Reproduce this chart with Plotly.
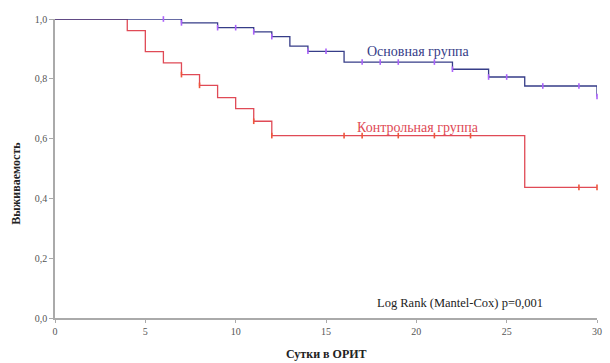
import plotly.graph_objects as go

# Kaplan-Meier step data (days, survival)
main_t = [0, 7, 9, 11, 12, 13, 14, 16, 22, 24, 26, 30]
main_s = [1.0, 0.987, 0.971, 0.957, 0.941, 0.909, 0.892, 0.856, 0.832, 0.806, 0.776, 0.741]
main_cens_t = [6, 7, 9, 10, 11, 12, 14, 15, 17, 18, 19, 21, 22, 24, 25, 27, 29, 30]
main_cens_s = [1.0, 0.987, 0.971, 0.971, 0.957, 0.941, 0.892, 0.892, 0.856, 0.856, 0.856, 0.856,
               0.832, 0.806, 0.806, 0.776, 0.776, 0.741]

ctrl_t = [0, 4, 5, 6, 7, 8, 9, 10, 11, 12, 26, 30]
ctrl_s = [1.0, 0.961, 0.891, 0.853, 0.814, 0.778, 0.737, 0.70, 0.658, 0.61, 0.437, 0.437]
ctrl_cens_t = [7, 8, 11, 12, 16, 17, 19, 21, 23, 29, 30]
ctrl_cens_s = [0.814, 0.778, 0.658, 0.61, 0.61, 0.61, 0.61, 0.61, 0.61, 0.437, 0.437]

x_ticks = [0, 5, 10, 15, 20, 25, 30]
y_ticks = [0.0, 0.2, 0.4, 0.6, 0.8, 1.0]
y_tick_labels = ["0,0", "0,2", "0,4", "0,6", "0,8", "1,0"]

BLUE = "#363d88"
RED = "#e04a56"
FONT = "Liberation Serif"

fig = go.Figure()
fig.add_trace(go.Scatter(x=ctrl_t, y=ctrl_s, mode="lines", line=dict(color=RED, width=1.3, shape="hv"),
                         cliponaxis=False, showlegend=False, hoverinfo="skip"))
fig.add_trace(go.Scatter(x=ctrl_cens_t, y=ctrl_cens_s, mode="markers",
                         marker=dict(symbol="line-ns-open", size=4, line=dict(color=RED, width=1.6)),
                         cliponaxis=False, showlegend=False))
fig.add_trace(go.Scatter(x=main_t, y=main_s, mode="lines", line=dict(color=BLUE, width=1.3, shape="hv"),
                         cliponaxis=False, showlegend=False, hoverinfo="skip"))
fig.add_trace(go.Scatter(x=main_cens_t, y=main_cens_s, mode="markers",
                         marker=dict(symbol="line-ns-open", size=4, line=dict(color=BLUE, width=1.6)),
                         cliponaxis=False, showlegend=False))

fig.add_annotation(x=20.1, y=0.891, text="Основная группа", showarrow=False,
                   font=dict(family=FONT, size=14, color=BLUE))
fig.add_annotation(x=20.1, y=0.638, text="Контрольная группа", showarrow=False,
                   font=dict(family=FONT, size=14, color=RED))
fig.add_annotation(x=22.4, y=0.051, text="Log Rank (Mantel-Cox) p=0,001", showarrow=False,
                   font=dict(family=FONT, size=12.5, color="#222"))
fig.add_annotation(xref="paper", yref="paper", x=0.5, y=-0.09, yanchor="top",
                   text="<b>Сутки в ОРИТ</b>", showarrow=False,
                   font=dict(family=FONT, size=12, color="#222"))
fig.add_annotation(xref="paper", yref="paper", x=-0.088, y=0.45, textangle=-90,
                   text="<b>Выживаемость</b>", showarrow=False,
                   font=dict(family=FONT, size=12, color="#222"))

fig.update_layout(
    width=610, height=363,
    margin=dict(l=55, r=8, t=19, b=45),
    plot_bgcolor="white", paper_bgcolor="white",
    xaxis=dict(range=[0, 30], tickvals=x_ticks, ticks="outside", ticklen=3, tickcolor="#aaa",
               showline=True, linecolor="#aaa", linewidth=1.5, showgrid=False, zeroline=False,
               tickfont=dict(family=FONT, size=10, color="#555")),
    yaxis=dict(range=[0, 1], tickvals=y_ticks, ticktext=y_tick_labels, ticks="outside", ticklen=4,
               tickcolor="#aaa", showline=True, linecolor="#aaa", linewidth=1.5, showgrid=False,
               zeroline=False, tickfont=dict(family=FONT, size=10, color="#555")),
)

fig.write_html("out.html")
